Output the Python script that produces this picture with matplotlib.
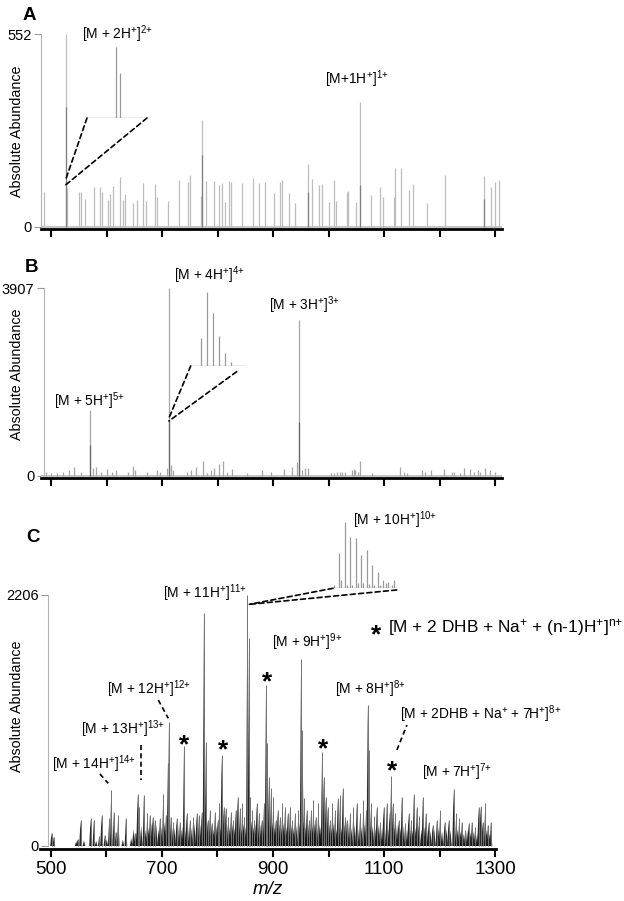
import matplotlib
matplotlib.use("Agg")
import matplotlib.pyplot as plt
from matplotlib.patches import ConnectionPatch
from matplotlib.collections import PolyCollection

plt.rcParams['font.family'] = ['Liberation Sans', 'DejaVu Sans']
plt.rcParams['mathtext.fontset'] = 'custom'
plt.rcParams['mathtext.rm'] = 'Liberation Sans'
plt.rcParams['mathtext.it'] = 'Liberation Sans:italic'
plt.rcParams['mathtext.bf'] = 'Liberation Sans:bold'

# ---- panel A : peak list (m/z, abundance) ----
a_mz = [487, 527, 528, 550, 553, 561, 577, 587, 591, 603, 606, 611, 624, 629, 633, 648, 655, 666, 671, 687,
        691, 710, 730, 747, 750, 769, 772, 779, 793, 802, 808, 813, 820, 823, 843, 864, 874, 885, 901, 912,
        916, 928, 939, 962, 970, 983, 988, 1001, 1010, 1013, 1032, 1034, 1049, 1056, 1076, 1093, 1097, 1117, 1120, 1130,
        1144, 1152, 1176, 1209, 1279, 1293, 1299, 1307]
a_int = [101, 552, 111, 100, 100, 80, 115, 113, 100, 77, 93, 118, 144, 77, 93, 70, 76, 125, 74, 122,
         87, 74, 134, 128, 149, 90, 306, 131, 131, 120, 126, 72, 131, 128, 125, 141, 125, 128, 97, 128,
         134, 98, 70, 179, 137, 120, 122, 72, 134, 74, 101, 103, 72, 358, 91, 113, 87, 87, 170, 170,
         106, 122, 70, 149, 146, 113, 128, 134]
a_mz2 = [527, 772, 962, 1056, 1279]
a_int2 = [343, 206, 100, 120, 80]
ai_mz = [527.0, 527.5]
ai_int = [552, 350]

# ---- panel B ----
b_mz = [491, 500, 511, 521, 532, 541, 554, 569, 576, 580, 589, 600, 610, 616, 638, 648, 650, 673, 691, 696,
        708, 712, 716, 719, 745, 752, 760, 774, 781, 788, 793, 802, 810, 817, 825, 853, 880, 896, 919, 934,
        943, 947, 952, 957, 962, 1004, 1009, 1015, 1020, 1024, 1030, 1042, 1045, 1048, 1052, 1057, 1077, 1129, 1135, 1141,
        1168, 1174, 1184, 1207, 1222, 1225, 1236, 1244, 1254, 1261, 1268, 1272, 1282, 1291, 1300]
b_int = [90, 55, 55, 90, 124, 194, 90, 1372, 159, 194, 90, 138, 90, 124, 90, 214, 124, 90, 124, 90,
         159, 3907, 228, 124, 90, 124, 194, 318, 55, 124, 159, 249, 318, 90, 138, 55, 124, 90, 138, 194,
         298, 3242, 124, 159, 159, 55, 69, 76, 76, 76, 90, 124, 138, 124, 90, 318, 55, 180, 90, 55,
         124, 90, 124, 138, 90, 90, 55, 159, 138, 90, 124, 90, 173, 124, 90]
b_mz2 = [569, 712, 947]
b_int2 = [644, 1164, 1128]
bi_mz = [711.25, 711.5, 711.75, 712.0, 712.25, 712.5]
bi_int = [1468, 3907, 2794, 1590, 689, 212]

# ---- panel C ----
c_mz = [501.7, 505.9, 548.5, 553.9, 571.9, 577.9, 587.5, 591.7, 597.7, 605.5, 609.1, 613.9, 617.5, 621.7, 635.5,
        651.7, 656.5, 659.5, 667.9, 674.0, 678.7, 683.5, 687.7, 696.7, 702.7, 707.5, 711.1, 713.0, 716.5, 720.7,
        726.7, 732.7, 740.0, 744.7, 750.7, 756.7, 762.7,
        766.9, 771.7, 775.9, 779.5, 782.5, 786.7, 790.9, 795.7, 800.5, 803.5, 807.7, 811.3, 814.9, 819.7, 824.5,
        828.7, 832.9, 836.5, 840.7, 844.9, 848.5, 853.9, 856.9, 859.3, 862.9, 866.5, 870.7, 874.9, 879.7, 883.9,
        887.5, 889.9, 892.9, 896.5, 900.7, 904.9, 908.5, 912.7, 916.9, 921.7, 926.5, 930.7, 934.9, 939.7, 945.7,
        950.5, 952.9, 956.5, 960.7, 964.9, 968.5, 972.7, 976.9, 981.7, 988.3, 991.3, 994.9, 998.5, 1002.7, 1006.9,
        1011.7, 1016.5, 1020.7, 1025.5, 1029.7,
        1032.7, 1038.7, 1044.7, 1050.7, 1056.7, 1062.7, 1067.5, 1070.5, 1072.9, 1076.5, 1082.5, 1086.7, 1092.7,
        1098.7, 1104.7, 1109.5, 1112.5, 1115.5, 1119.7, 1125.7, 1131.7, 1137.7, 1143.7, 1148.5, 1153.3, 1158.7,
        1162.9, 1169.5, 1174.9, 1179.7, 1186.9, 1194.7, 1200.7, 1208.5, 1215.7, 1224.7, 1229.5, 1234.9, 1239.7,
        1245.7, 1251.7, 1257.7, 1263.7, 1269.7, 1273.3, 1276.9, 1281.7, 1286.5, 1291.9]
c_int = [117, 82, 58, 228, 243, 228, 88, 272, 96, 243, 492, 302, 126, 272, 243,
         111, 457, 345, 448, 287, 272, 257, 228, 243, 457, 272, 726, 1093, 257, 214,
         243, 214, 879, 287, 228, 257, 287,
         272, 302, 2051, 917, 228, 316, 199, 302, 228, 375, 800, 345, 331, 258, 302,
         228, 316, 434, 331, 375, 258, 2206, 1825, 434, 316, 228, 375, 287, 228, 375,
         1415, 902, 609, 507, 434, 228, 316, 258, 375, 345, 287, 345, 228, 287, 316,
         1641, 1019, 419, 316, 228, 316, 404, 258, 375, 829, 609, 434, 345, 228, 375,
         316, 419, 448, 507, 258,
         228, 287, 345, 375, 287, 404, 316, 1239, 844, 375, 264, 345, 214,
         345, 375, 302, 615, 375, 287, 228, 433, 199, 287, 228, 457, 345,
         264, 433, 287, 214, 184, 228, 316, 214, 228, 498, 287, 243, 214,
         140, 199, 214, 170, 345, 351, 214, 375, 184, 214]
# low, crowded peaks under the main ones
c_low_mz = [546, 560, 582, 601, 630, 645, 649, 654, 663, 671, 676, 681, 685, 690, 694, 699, 705, 709, 718, 723,
            729, 735, 738, 742, 747, 753, 759, 764, 769, 774, 778, 784, 789, 793, 798, 802, 806, 809, 813, 817,
            822, 827, 831, 835, 839, 843, 847, 851, 858, 861, 865, 869, 873, 877, 882, 886, 895, 899, 903, 907,
            911, 915, 919, 924, 929, 933, 937, 942, 948, 955, 959, 963, 967, 971, 975, 979, 984, 986, 997, 1001,
            1005, 1009, 1014, 1018, 1023, 1028, 1031, 1035, 1041, 1047, 1053, 1059, 1065, 1075, 1079, 1085, 1090,
            1096, 1101, 1107, 1118, 1123, 1129, 1134, 1141, 1146, 1151, 1156, 1161, 1167, 1172, 1177, 1183, 1190,
            1198, 1204, 1212, 1219, 1227, 1232, 1237, 1243, 1249, 1255, 1261, 1267, 1279, 1284, 1289]
c_low_int = [40, 50, 45, 60, 55, 70, 150, 120, 180, 140, 160, 200, 130, 190, 150, 170, 210, 140, 190, 160,
             200, 150, 170, 130, 180, 160, 200, 150, 190, 170, 220, 160, 200, 150, 180, 210, 160, 190, 150, 220,
             170, 200, 160, 210, 180, 150, 200, 170, 190, 220, 170, 200, 150, 190, 160, 200, 180, 210, 170, 150,
             190, 160, 200, 170, 150, 190, 160, 180, 200, 210, 170, 190, 150, 180, 200, 160, 190, 170, 150, 190,
             160, 200, 150, 180, 160, 190, 170, 200, 160, 180, 150, 170, 190, 160, 180, 150, 190,
             160, 180, 150, 170, 190, 160, 180, 150, 170, 140, 160, 180, 150, 170, 140, 130, 150,
             160, 130, 150, 140, 120, 150, 130, 110, 140, 120, 130, 110, 120, 140, 110]
ci_mz = [859.91, 860.0, 860.04, 860.1, 860.15, 860.2, 860.24, 860.3, 860.34, 860.4, 860.44, 860.5, 860.54,
         860.6, 860.63, 860.7, 860.74, 860.8, 860.85, 860.9, 860.96, 861.0, 861.05]
ci_int = [110, 1180, 276, 2206, 110, 1710, 110, 1655, 165, 1103, 165, 1268, 143,
          772, 110, 551, 110, 276, 165, 221, 110, 276, 110]
star_mz = [740.0, 810.7, 888.8, 990.7, 1113.8]
star_int = [961, 917, 1512, 925, 732]

W, H = 624, 901
fig = plt.figure(figsize=(W / 100, H / 100), dpi=100)
LAB = 9.9


def px_axes(left, top, right, bottom):
    return fig.add_axes([left / W, 1 - bottom / H, (right - left) / W, (bottom - top) / H])


def style_main(ax, xlim, ylim, ymax, yspine_x, labels):
    ax.set_xlim(*xlim)
    ax.set_ylim(*ylim)
    ax.spines['top'].set_visible(False)
    ax.spines['right'].set_visible(False)
    ax.spines['bottom'].set_linewidth(2)
    ax.spines['left'].set_color('0.7')
    ax.spines['left'].set_linewidth(0.8)
    ax.spines['left'].set_bounds(0, ymax)
    ax.spines['left'].set_position(('data', yspine_x))
    ax.set_yticks([0, ymax])
    ax.set_yticklabels(['0', str(ymax)])
    ax.tick_params(axis='y', length=5, width=0.8, color='0.6', labelsize=10.5, pad=2)
    ax.set_xticks(range(500, 1301, 100))
    ax.tick_params(axis='x', length=6, width=1.5, direction='out', labelsize=13.5, pad=3)
    if labels:
        ax.set_xticklabels(['500', '', '700', '', '900', '', '1100', '', '1300'])
    else:
        ax.set_xticklabels([])


def style_inset(ax, xlim, ylim):
    ax.set_xlim(*xlim)
    ax.set_ylim(*ylim)
    ax.axis('off')
    ax.axhline(0, color='0.6', lw=1.0)


def ion(base, charge):
    # "[M + nH+]z+" style label
    return base + r'$^{\text{' + charge + '}}$'


# ---------------- A ----------------
axA = px_axes(40.7, 34, 502, 228.5)
axA.hlines(0, 481, 1312, color='0.78', lw=1.5)
axA.vlines(a_mz, 0, a_int, color='0.74', lw=0.9)
axA.vlines(a_mz2, 0, a_int2, color='0.5', lw=0.9)
style_main(axA, (481, 1312), (-4.3, 552), 552, 482, False)
insA = px_axes(87, 47, 147, 118)
insA.vlines(ai_mz, 0, ai_int, color='0.6', lw=0.9)
style_inset(insA, (523.0, 531.3), (0, 552))
for fa, yb in [((0, 0), 134), ((1, 0), 120)]:
    fig.add_artist(ConnectionPatch(xyA=fa, coordsA=insA.transAxes, xyB=(525.7, yb), coordsB=axA.transData,
                                   ls=(0, (3, 2)), lw=1.2, color='k'))
axA.text(554.5, 539, ion(r'[M + 2H$^{+}$]', '2+'), fontsize=LAB, ha='left', va='baseline')
axA.text(993.8, 409, ion(r'[M+1H$^{+}$]', '1+'), fontsize=LAB, ha='left', va='baseline')

# ---------------- B ----------------
axB = px_axes(40.7, 288, 502, 478)
axB.hlines(0, 481, 1312, color='0.78', lw=1.5)
axB.vlines(b_mz, 0, b_int, color='0.65', lw=0.9)
axB.vlines(b_mz2, 0, b_int2, color='0.4', lw=0.9)
style_main(axB, (481, 1312), (-41.6, 3907), 3907, 486.7, False)
insB = px_axes(190.7, 292.3, 245.7, 366)
insB.vlines(bi_mz, 0, bi_int, color='0.6', lw=0.9)
style_inset(insB, (710.8, 713.1), (0, 3907))
for fa, yb in [((0, 0), 1205), ((0.836, -0.077), 1143)]:
    fig.add_artist(ConnectionPatch(xyA=fa, coordsA=insB.transAxes, xyB=(712, yb), coordsB=axB.transData,
                                   ls=(0, (3, 2)), lw=1.2, color='k'))
axB.text(504.7, 1461, ion(r'[M + 5H$^{+}$]', '5+'), fontsize=LAB, ha='left', va='baseline')
axB.text(722, 4073, ion(r'[M + 4H$^{+}$]', '4+'), fontsize=LAB, ha='left', va='baseline')
axB.text(891.7, 3450, ion(r'[M + 3H$^{+}$]', '3+'), fontsize=LAB, ha='left', va='baseline')

# ---------------- C ----------------
axC = px_axes(40, 595, 496, 849)
hw = 2.4
tri = [[(m - hw, 0), (m, v), (m + hw, 0)] for m, v in zip(c_low_mz + c_mz, c_low_int + c_int)]
axC.add_collection(PolyCollection(tri, facecolor='0.05', edgecolor='none', alpha=0.88))
axC.vlines(c_mz, 0, c_int, color='0.45', lw=0.7)
style_main(axC, (481, 1301), (-26.4, 2206), 2206, 495.7, True)
axC.set_xlabel('m/z', style='italic', fontsize=13.5, labelpad=2)
insC = px_axes(333, 521.7, 396.7, 588.3)
insC.vlines(ci_mz, 0, ci_int, color='0.6', lw=0.9)
style_inset(insC, (859.885, 861.05), (0, 2206))
for fa in [(0, 0), (1, -0.025)]:
    fig.add_artist(ConnectionPatch(xyA=fa, coordsA=insC.transAxes, xyB=(857.5, 2124), coordsB=axC.transData,
                                   ls=(0, (3, 2)), lw=1.2, color='k'))

for m, v in zip(star_mz + [1085.5], star_int + [1925]):
    axC.annotate('*', xy=(m, v), xytext=(0, -11), textcoords='offset points', ha='center', va='baseline',
                 fontsize=19, fontweight='bold')
axC.text(1107.4, 1878, r'[M + 2 DHB + Na$^{+}$ + (n-1)H$^{+}$]$^{\text{n+}}$', fontsize=12.4,
         ha='left', va='baseline')
axC.text(852.8, 2177, ion(r'[M + 11H$^{+}$]', '11+'), fontsize=LAB, ha='right', va='baseline')
axC.text(1044.7, 2821, ion(r'[M + 10H$^{+}$]', '10+'), fontsize=LAB, ha='left', va='baseline')
axC.text(897.8, 1746, ion(r'[M + 9H$^{+}$]', '9+'), fontsize=LAB, ha='left', va='baseline')
axC.text(1011.7, 1336, ion(r'[M + 8H$^{+}$]', '8+'), fontsize=LAB, ha='left', va='baseline')
axC.text(1128.7, 1116, ion(r'[M + 2DHB + Na$^{+}$ + 7H$^{+}$]', '8+'), fontsize=LAB, ha='left', va='baseline')
axC.text(1167.8, 604, ion(r'[M + 7H$^{+}$]', '7+'), fontsize=LAB, ha='left', va='baseline')
axC.text(600.8, 1336, ion(r'[M + 12H$^{+}$]', '12+'), fontsize=LAB, ha='left', va='baseline')
axC.text(554.5, 984, ion(r'[M + 13H$^{+}$]', '13+'), fontsize=LAB, ha='left', va='baseline')
axC.text(501.8, 674, ion(r'[M + 14H$^{+}$]', '14+'), fontsize=LAB, ha='left', va='baseline')
dash = dict(ls=(0, (3, 2)), lw=1.2, color='k')
axC.plot([693.7, 711.7], [1283, 1122], **dash)
axC.plot([662, 662], [888, 580], **dash)
axC.plot([588.7, 603.7], [633, 551], **dash)
axC.plot([1122.8, 1140.8], [844, 1063], **dash)

# panel letters and y labels
for letter, xb, yb in [('A', 23, 20), ('B', 25, 272), ('C', 26, 542)]:
    fig.text(xb / W, 1 - yb / H, letter, fontsize=13.5, fontweight='bold', ha='left', va='baseline')
for yc in [131, 374, 706]:
    fig.text(17.5 / W, 1 - yc / H, 'Absolute Abundance', rotation=90, ha='center', va='center', fontsize=10.3)

fig.savefig('out.png', dpi=100)
